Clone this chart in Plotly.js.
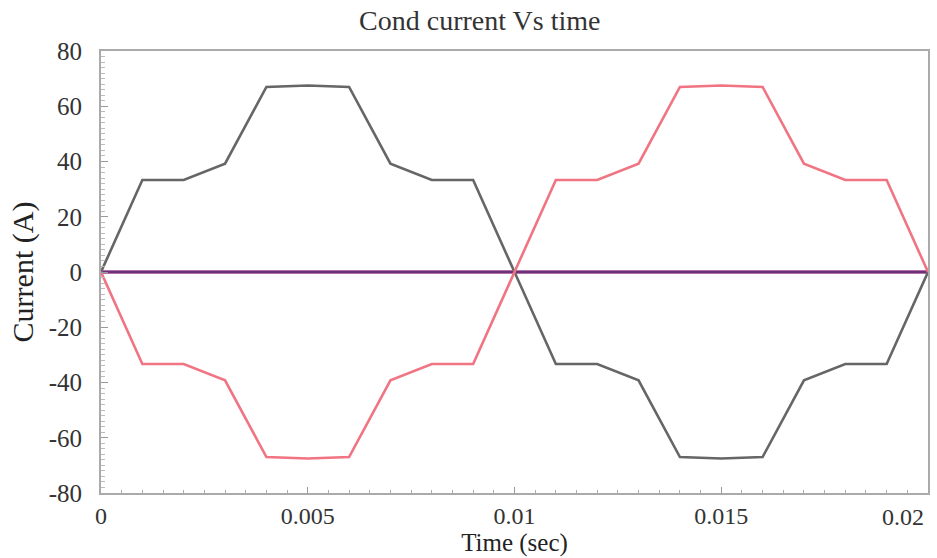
<!DOCTYPE html>
<html>
<head>
<meta charset="utf-8">
<script src="https://cdn.plot.ly/plotly-3.0.1.min.js"></script>
<style>html,body{margin:0;padding:0;background:#fff;}#chart{width:937px;height:558px;}</style>
</head>
<body>
<div id="chart"></div>
<script>
var timeSec = [0,0.001,0.002,0.003,0.004,0.005,0.006,0.007,0.008,0.009,0.010,0.011,0.012,0.013,0.014,0.015,0.016,0.017,0.018,0.019,0.020];
var grayCurrent = [0,33.3,33.3,39.2,67.0,67.5,67.0,39.2,33.3,33.3,0,-33.3,-33.3,-39.2,-67.0,-67.5,-67.0,-39.2,-33.3,-33.3,0];
var redCurrent = [0,-33.3,-33.3,-39.2,-67.0,-67.5,-67.0,-39.2,-33.3,-33.3,0,33.3,33.3,39.2,67.0,67.5,67.0,39.2,33.3,33.3,0];
var purpleCurrent = [0,0,0,0,0,0,0,0,0,0,0,0,0,0,0,0,0,0,0,0,0];
var darkCurrent = [0,0,0,0,0,0,0,0,0,0,0,0,0,0,0,0,0,0,0,0,0];
var xTicks = [0,0.005,0.01,0.015,0.02];
var xTickText = ['0','0.005','0.01','0.015',''];
var lastXLabel = '0.02';
var yTicks = [-80,-60,-40,-20,0,20,40,60,80];
var yTickText = ['-80','-60','-40','-20','0','20','40','60','80'];

var serif = 'Liberation Serif, Times New Roman, serif';
var traces = [
  {x: timeSec, y: purpleCurrent, mode:'lines', line:{color:'#9a3c9a', width:3.5}, hoverinfo:'skip'},
  {x: timeSec, y: darkCurrent, mode:'lines', line:{color:'#3b2a4a', width:1.2}, hoverinfo:'skip'},
  {x: timeSec, y: grayCurrent, mode:'lines', line:{color:'#666666', width:2.6}},
  {x: timeSec, y: redCurrent, mode:'lines', line:{color:'#f07482', width:2.6}}
];
var layout = {
  width:937, height:558,
  margin:{l:101, r:9, t:51, b:65},
  paper_bgcolor:'#fff', plot_bgcolor:'#fff',
  showlegend:false,
  title:{text:'Cond current Vs time', font:{family:serif, size:28, color:'#333'}, x:0.512, xanchor:'center', y:0.963, yanchor:'middle'},
  xaxis:{
    range:[0,0.02], tickvals:xTicks, ticktext:xTickText,
    ticks:'inside', ticklen:6, tickcolor:'#999', tickwidth:1,
    minor:{dtick:0.0005, ticks:'inside', ticklen:3, tickcolor:'#aaa', showgrid:false},
    showgrid:false, zeroline:false,
    showline:true, linecolor:'#aaa', linewidth:2, mirror:true,
    ticklabelstandoff:0,
    tickfont:{family:serif, size:24, color:'#333'},
    title:{text:'Time (sec)', font:{family:serif, size:25, color:'#222'}, standoff:0}
  },
  yaxis:{
    range:[-80,80], tickvals:yTicks, ticktext:yTickText,
    ticks:'inside', ticklen:7, tickcolor:'#999', tickwidth:1,
    minor:{dtick:2, ticks:'inside', ticklen:4, tickcolor:'#bbb', showgrid:false},
    showgrid:false, zeroline:false,
    showline:true, linecolor:'#aaa', linewidth:2, mirror:true,
    ticklabelstandoff:12,
    tickfont:{family:serif, size:25, color:'#333'},
    title:{text:'Current (A)', font:{family:serif, size:30, color:'#222'}, standoff:6}
  },
  annotations:[
    {text:lastXLabel, xref:'x', yref:'paper', x:0.02, y:0, xanchor:'right', yanchor:'top', yshift:-9, xshift:-2, showarrow:false, font:{family:serif, size:24, color:'#333'}}
  ]
};
Plotly.newPlot('chart', traces, layout, {displayModeBar:false, staticPlot:true});
</script>
</body>
</html>
